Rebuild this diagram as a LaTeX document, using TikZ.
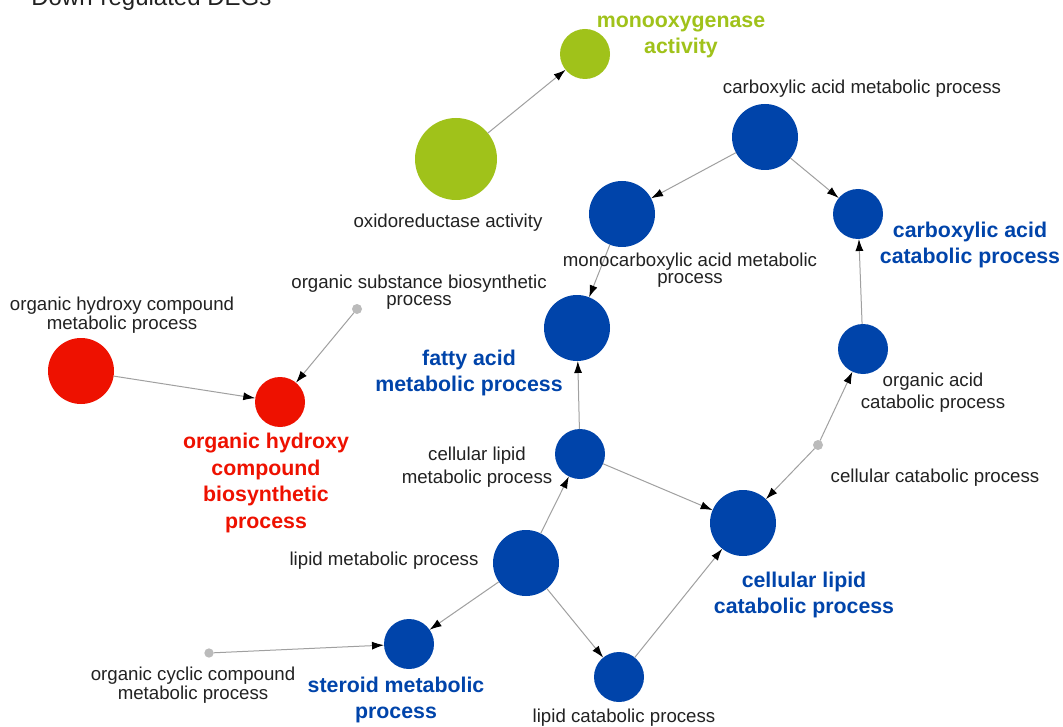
\documentclass[tikz,border=0pt]{standalone}
\usepackage{fontspec}
\setmainfont{Liberation Sans}
\usetikzlibrary{arrows.meta}
\definecolor{gblue}{RGB}{0,68,170}
\definecolor{ggreen}{RGB}{160,194,26}
\definecolor{gred}{RGB}{238,17,0}
\definecolor{gdot}{RGB}{187,187,187}
\definecolor{gline}{RGB}{160,160,160}
\definecolor{gtext}{RGB}{34,34,34}
\begin{document}
\begin{tikzpicture}[x=0.75pt,y=-0.75pt,
  term/.style={circle,inner sep=0pt,outer sep=0pt,draw=none,minimum size=#1},
  blueterm/.style={term=#1,fill=gblue},
  greenterm/.style={term=#1,fill=ggreen},
  redterm/.style={term=#1,fill=gred},
  dotterm/.style={term=#1,fill=gdot},
  lbl/.style={font=\fontsize{14}{#1}\selectfont,text=gtext,align=center,inner sep=0pt},
  blbl/.style={font=\bfseries\fontsize{16}{#1}\selectfont,align=center,inner sep=0pt},
  link/.style={draw=gline,line width=0.75pt,-{Latex[length=9pt,width=6pt,color=black]}}
]
\useasboundingbox (0,0) rectangle (1063,727);
\clip (0,0) rectangle (1063,727);
\fill[white] (0,0) rectangle (1063,727);

% title (cut off at top, as in the reference)
\node[anchor=base west,inner sep=0pt,text=gtext,font=\fontsize{18}{20}\selectfont] (title) at (31,6) {Down-regulated DEGs};

% terms
\node[greenterm=37.5pt] (mono) at (585,54) {};
\node[greenterm=61.5pt] (oxi) at (456,159) {};
\node[blueterm=49.5pt] (cam) at (765,137) {};
\node[blueterm=49.5pt] (mcam) at (622,214) {};
\node[blueterm=37.5pt] (cac) at (858,214) {};
\node[blueterm=49.5pt] (fam) at (577,328) {};
\node[blueterm=37.5pt] (oac) at (863,349) {};
\node[dotterm=7.5pt] (ccp) at (818,445) {};
\node[blueterm=37.5pt] (clm) at (580,454) {};
\node[blueterm=49.5pt] (clc) at (743,523) {};
\node[blueterm=49.5pt] (lmp) at (526,563) {};
\node[blueterm=37.5pt] (smp) at (409,644) {};
\node[dotterm=7pt] (occ) at (209,653) {};
\node[blueterm=37.5pt] (lcp) at (619,677) {};
\node[redterm=49.5pt] (ohm) at (81,371) {};
\node[redterm=37.5pt] (ohb) at (280,402) {};
\node[dotterm=7.5pt] (osb) at (357,309) {};

% connectors
\draw[link] (oxi) -- (mono);
\draw[link] (cam) -- (mcam);
\draw[link] (cam) -- (cac);
\draw[link] (mcam) -- (fam);
\draw[link] (oac) -- (cac);
\draw[link] (ccp) -- (oac);
\draw[link] (ccp) -- (clc);
\draw[link] (clm) -- (fam);
\draw[link] (clm) -- (clc);
\draw[link] (lmp) -- (clm);
\draw[link] (lmp) -- (smp);
\draw[link] (lmp) -- (lcp);
\draw[link] (lcp) -- (clc);
\draw[link] (occ) -- (smp);
\draw[link] (ohm) -- (ohb);
\draw[link] (osb) -- (ohb);

% labels
\node[blbl=19.5pt,text=ggreen] (monoL) at (681,37) {monooxygenase\\activity};
\node[lbl=16pt] (oxiL) at (448,223) {oxidoreductase activity};
\node[lbl=16pt] (camL) at (862,89) {carboxylic acid metabolic process};
\node[blbl=20pt,text=gblue] (cacL) at (970,245) {carboxylic acid\\catabolic process};
\node[lbl=12.8pt] (mcamL) at (690,270) {monocarboxylic acid metabolic\\process};
\node[blbl=19.5pt,text=gblue] (famL) at (469,373) {fatty acid\\metabolic process};
\node[lbl=16.5pt] (oacL) at (933,393) {organic acid\\catabolic process};
\node[lbl=16pt] (ccpL) at (935,478) {cellular catabolic process};
\node[lbl=17pt] (clmL) at (477,467) {cellular lipid\\metabolic process};
\node[blbl=20pt,text=gblue] (clcL) at (804,595) {cellular lipid\\catabolic process};
\node[lbl=16pt] (lmpL) at (384,561) {lipid metabolic process};
\node[blbl=19pt,text=gblue] (smpL) at (396,700) {steroid metabolic\\process};
\node[lbl=12pt] (occL) at (193,685) {organic cyclic compound\\metabolic process};
\node[lbl=16pt] (lcpL) at (624,718) {lipid catabolic process};
\node[lbl=12.8pt] (ohmL) at (122,315) {organic hydroxy compound\\metabolic process};
\node[blbl=20pt,text=gred] (ohbL) at (266,483) {organic hydroxy\\compound\\biosynthetic\\process};
\node[lbl=13pt] (osbL) at (419,292) {organic substance biosynthetic\\process};
\end{tikzpicture}
\end{document}
